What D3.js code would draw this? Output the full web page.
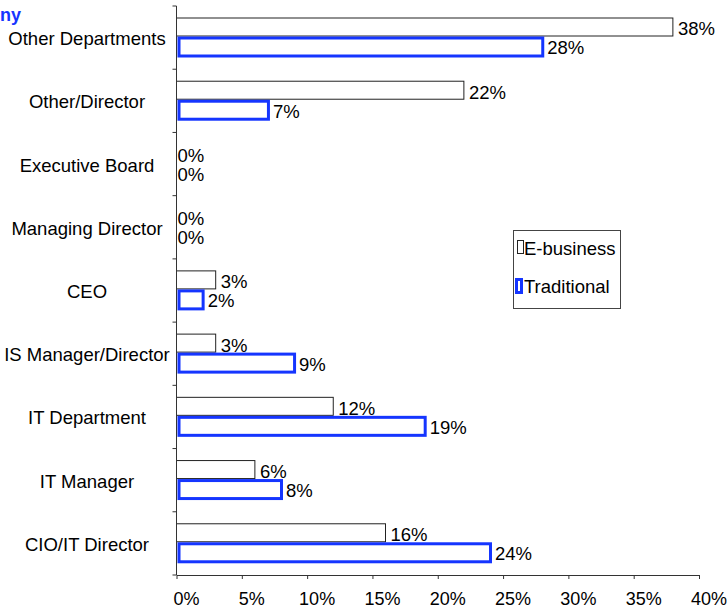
<!DOCTYPE html>
<html>
<head>
<meta charset="utf-8">
<script src="https://cdn.jsdelivr.net/npm/d3@7"></script>
<style>
  body { margin: 0; background: #fff; }
  svg { display: block; font-family: "Liberation Sans", Arial, sans-serif; }
</style>
</head>
<body>
<svg id="chart" width="727" height="610"></svg>
<script>
// categories top to bottom
const categories = ["Other Departments", "Other/Director", "Executive Board", "Managing Director",
  "CEO", "IS Manager/Director", "IT Department", "IT Manager", "CIO/IT Director"];
const series = ["E-business", "Traditional"];
const eBusiness = [38, 22, 0, 0, 3, 3, 12, 6, 16];
const traditional = [28, 7, 0, 0, 2, 9, 19, 8, 24];
const xTicks = [0, 5, 10, 15, 20, 25, 30, 35, 40];

const blue = "#1535ff";
const fs = 18.5;
const svg = d3.select("#chart");

const x = d3.scaleLinear().domain([0, 40]).range([176.5, 699]);
const y = d3.scaleBand().domain(categories).range([6, 575]);
const ySeries = d3.scaleBand().domain(series).range([11.5, 49.5]);

const rows = categories.map((c, i) => ({cat: c, vals: [eBusiness[i], traditional[i]]}));

// title remnant
svg.append("text").attr("x", 0).attr("y", 20.5)
  .attr("font-size", 18).attr("font-weight", "bold").attr("fill", blue).text("ny");

// bars
const g = svg.append("g");
rows.forEach(r => {
  series.forEach((s, j) => {
    const v = r.vals[j];
    const y0 = y(r.cat) + ySeries(s);
    const h = ySeries.bandwidth();
    if (v > 0) {
      if (j === 0) {
        g.append("rect").attr("x", x(0)).attr("y", y0 + 0.5)
          .attr("width", x(v) - x(0)).attr("height", h - 1)
          .attr("fill", "#fff").attr("stroke", "#222").attr("stroke-width", 1);
      } else {
        g.append("rect").attr("x", x(0) + 2.5).attr("y", y0 + 1.5)
          .attr("width", x(v) - x(0) - 2).attr("height", h - 1)
          .attr("fill", "#fff").attr("stroke", blue).attr("stroke-width", 3);
      }
    }
    g.append("text").attr("x", x(v) + (v > 0 ? 5 : 1)).attr("y", y0 + h / 2 + 2)
      .attr("dy", "0.35em").attr("font-size", fs).attr("fill", "#000").text(v + "%");
  });
});

// y axis
const yAxis = svg.append("g").attr("transform", "translate(" + x(0) + ",0)");
yAxis.append("line").attr("x1", 0).attr("x2", 0).attr("y1", 6).attr("y2", 575)
  .attr("stroke", "#333");
yAxis.selectAll(".yt").data(categories.concat(["_end"])).enter().append("line")
  .attr("x1", -4).attr("x2", 0)
  .attr("y1", (d, i) => 6 + i * y.step()).attr("y2", (d, i) => 6 + i * y.step())
  .attr("stroke", "#333");
svg.selectAll(".cat").data(categories).enter().append("text")
  .attr("x", 87).attr("y", d => y(d) + y.bandwidth() / 2 + 1)
  .attr("dy", "0.35em").attr("text-anchor", "middle").attr("font-size", fs)
  .attr("fill", "#000").text(d => d);

// x axis
const xAxis = svg.append("g").attr("transform", "translate(0,575)")
  .call(d3.axisBottom(x).tickValues(xTicks).tickSize(4).tickSizeOuter(0).tickFormat(d => d + "%"));
xAxis.select(".domain").attr("stroke", "#333");
xAxis.selectAll(".tick line").attr("stroke", "#333");
xAxis.selectAll(".tick text").attr("font-size", 18).attr("font-family", "Liberation Sans, Arial, sans-serif")
  .attr("fill", "#000").attr("dx", 9.5).attr("y", 17);

// legend
const lg = svg.append("g").attr("transform", "translate(513,230)");
lg.append("rect").attr("x", 0.5).attr("y", 0.5).attr("width", 107).attr("height", 78)
  .attr("fill", "#fff").attr("stroke", "#444");
lg.append("rect").attr("x", 4.5).attr("y", 10.5).attr("width", 6).attr("height", 13)
  .attr("fill", "#fff").attr("stroke", "#222");
lg.append("rect").attr("x", 3.5).attr("y", 49.5).attr("width", 5).attr("height", 13)
  .attr("fill", "#fff").attr("stroke", blue).attr("stroke-width", 3);
lg.selectAll(".lt").data(series).enter().append("text")
  .attr("x", 11).attr("y", (d, i) => 18.5 + i * 38).attr("dy", "0.35em")
  .attr("font-size", fs).attr("fill", "#000").text(d => d);
</script>
</body>
</html>
